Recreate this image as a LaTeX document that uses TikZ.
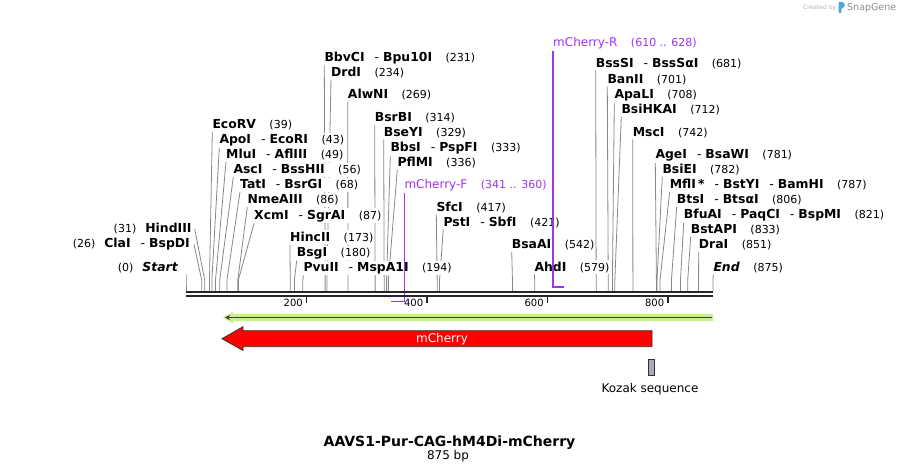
\documentclass[tikz,border=0pt]{standalone}
\usepackage{fontspec}
\setmainfont{DejaVu Sans}
\usetikzlibrary{calc, arrows.meta}
\pgfdeclarelayer{back}
\pgfsetlayers{back,main}
\definecolor{cutgray}{RGB}{135,135,135}
\definecolor{primer}{RGB}{160,50,240}
\definecolor{featgreen}{RGB}{198,240,140}
\definecolor{kozakgray}{RGB}{168,172,180}
\definecolor{logoblue}{RGB}{80,165,225}
\newcommand{\nm}[1]{\textbf{#1}}
\newcommand{\dsh}{\hspace{10pt}-\hspace{4pt}}
\newcommand{\num}[1]{\hspace{13.5pt}{\fontsize{11}{13}\selectfont(#1)}}
\newcommand{\mun}[1]{{\fontsize{11}{13}\selectfont(#1)}\hspace{9pt}}

\begin{document}
\begin{tikzpicture}[x=1pt, y=-1pt, >=stealth]
\tikzstyle{enz}=[fill=white, inner xsep=0pt, inner ysep=1.5pt, anchor=base west, font=\fontsize{12.4}{14}\selectfont]
\tikzstyle{enzl}=[enz, anchor=base east]
\tikzstyle{prm}=[enz, text=primer, font=\fontsize{12}{14}\selectfont]
\tikzstyle{prmline}=[draw=primer, line width=1.3pt]
\tikzstyle{cut}=[every edge/.style={draw=cutgray, line width=.8pt, to path={-- (\tikztotarget) -- ++(0,11)}}]
\tikzstyle{bone}=[line width=2.3pt, black!85]
\useasboundingbox (0,0) rectangle (899,470);

% cut sites
\foreach \b in {0,26,31,39,43,49,56,68,86,87,173,180,194,231,234,269,314,329,333,336,417,421,542,579,681,701,708,712,742,781,782,787,806,821,833,851,875}
  \coordinate (s\b) at ({186+0.6023*\b},280);
\coordinate (pf) at ({186+0.6023*341},301.5);
\coordinate (pr) at ({186+0.6023*628},287);

% enzymes, left of the map
\node[enzl] (start)   at (178.3,271.2) {\mun{0}\textbf{\textit{Start}}};
\node[enzl] (clai)    at (190,247.8)   {\mun{26}\nm{ClaI}\dsh\nm{BspDI}};
\node[enzl] (hindiii) at (191.7,232.8) {\mun{31}\nm{HindIII}};
% enzymes, right of the cut
\node[enz] (ecorv)   at (212.3,128.5) {\nm{EcoRV}\num{39}};
\node[enz] (apoi)    at (219.3,143.6) {\nm{ApoI}\dsh\nm{EcoRI}\num{43}};
\node[enz] (mlui)    at (226,158.7)   {\nm{MluI}\dsh\nm{AflIII}\num{49}};
\node[enz] (asci)    at (233.3,173.8) {\nm{AscI}\dsh\nm{BssHII}\num{56}};
\node[enz] (tati)    at (240,188.9)   {\nm{TatI}\dsh\nm{BsrGI}\num{68}};
\node[enz] (nmeaiii) at (247.3,204)   {\nm{NmeAIII}\num{86}};
\node[enz] (xcmi)    at (254,219.1)   {\nm{XcmI}\dsh\nm{SgrAI}\num{87}};
\node[enz] (hincii)  at (290,241.2)   {\nm{HincII}\num{173}};
\node[enz] (bsgi)    at (296.7,256.2) {\nm{BsgI}\num{180}};
\node[enz] (pvuii)   at (303.3,271.2) {\nm{PvuII}\dsh\nm{MspA1I}\num{194}};
\node[enz] (bbvci)   at (324.3,61.2)  {\nm{BbvCI}\dsh\nm{Bpu10I}\num{231}};
\node[enz] (drdi)    at (331,76.8)    {\nm{DrdI}\num{234}};
\node[enz] (alwni)   at (347.7,98.5)  {\nm{AlwNI}\num{269}};
\node[enz] (bsrbi)   at (374.7,121.8) {\nm{BsrBI}\num{314}};
\node[enz] (bseyi)   at (383.7,136.2) {\nm{BseYI}\num{329}};
\node[enz] (bbsi)    at (390.3,151.5) {\nm{BbsI}\dsh\nm{PspFI}\num{333}};
\node[enz] (pflmi)   at (397.3,166.5) {\nm{PflMI}\num{336}};
\node[prm] (mchf)    at (404.3,188.5) {mCherry-F\num{341 .. 360}};
\node[enz] (sfci)    at (436.3,211.2) {\nm{SfcI}\num{417}};
\node[enz] (psti)    at (443.3,226.2) {\nm{PstI}\dsh\nm{SbfI}\num{421}};
\node[enz] (bsaai)   at (511.7,248.5) {\nm{BsaAI}\num{542}};
\node[enz] (ahdi)    at (534.3,271.2) {\nm{AhdI}\num{579}};
\node[prm] (mchr)    at (553,46.5)    {mCherry-R\num{610 .. 628}};
\node[enz] (bsssi)   at (595.7,67.3)  {\nm{BssSI}\dsh\nm{BssSαI}\num{681}};
\node[enz] (banii)   at (607.3,83.5)  {\nm{BanII}\num{701}};
\node[enz] (apali)   at (614.3,98.5)  {\nm{ApaLI}\num{708}};
\node[enz] (bsihkai) at (621.3,113.5) {\nm{BsiHKAI}\num{712}};
\node[enz] (msci)    at (632.7,136.2) {\nm{MscI}\num{742}};
\node[enz] (agei)    at (655.3,158.5) {\nm{AgeI}\dsh\nm{BsaWI}\num{781}};
\node[enz] (bsiei)   at (662.3,173.5) {\nm{BsiEI}\num{782}};
\node[enz] (mfli)    at (669.7,188.5) {\nm{MflI}\,\nm{*}\dsh\nm{BstYI}\dsh\nm{BamHI}\num{787}};
\node[enz] (btsi)    at (676.7,203.5) {\nm{BtsI}\dsh\nm{BtsαI}\num{806}};
\node[enz] (bfuai)   at (683.7,218.5) {\nm{BfuAI}\dsh\nm{PaqCI}\dsh\nm{BspMI}\num{821}};
\node[enz] (bstapi)  at (690.7,233.5) {\nm{BstAPI}\num{833}};
\node[enz] (drai)    at (698.7,248.5) {\nm{DraI}\num{851}};
\node[enz] (end)     at (713.3,271.2) {\textbf{\textit{End}}\num{875}};

\begin{pgfonlayer}{back}
\path[cut]
(start.south east -| s0) edge (s0)
([xshift=4pt]clai.east) edge (s26)
([xshift=3pt]hindiii.east) edge (s31)
(ecorv.south west) edge (s39)
(apoi.south west) edge (s43)
(mlui.south west) edge (s49)
(asci.south west) edge (s56)
(tati.south west) edge (s68)
(nmeaiii.south west) edge (s86)
(xcmi.south west) edge (s87)
(hincii.south west) edge (s173)
(bsgi.south west) edge (s180)
(pvuii.south west) edge (s194)
(bbvci.south west) edge (s231)
(drdi.south west) edge (s234)
(alwni.south west) edge (s269)
(bsrbi.south west) edge (s314)
(bseyi.south west) edge (s329)
(bbsi.south west) edge (s333)
(pflmi.south west) edge (s336)
(sfci.south west) edge (s417)
(psti.south west) edge (s421)
(bsaai.south west) edge (s542)
(ahdi.south west) edge (s579)
(bsssi.south west) edge (s681)
(banii.south west) edge (s701)
(apali.south west) edge (s708)
(bsihkai.south west) edge (s712)
(msci.south west) edge (s742)
(agei.south west) edge (s781)
(bsiei.south west) edge (s782)
(mfli.south west) edge (s787)
(btsi.south west) edge (s806)
(bfuai.south west) edge (s821)
(bstapi.south west) edge (s833)
(drai.south west) edge (s851)
(end.south west) edge (s875);
\end{pgfonlayer}

% primers
\draw[prmline] (mchf.south west) |- (pf);
\draw[prmline] (mchr.south west) |- (pr);

% backbone and ruler
\draw[bone] (186,292) -- (713,292);
\draw[bone] (186,296) -- (713,296);
\foreach \t in {200,400,600,800} {
  \draw[line width=1.5pt, black!85] ({186+0.6023*\t},297) -- ++(0,6);
  \node[anchor=base east, inner sep=0pt, font=\fontsize{10}{12}\selectfont] (t\t) at ({182.5+0.6023*\t},306.7) {\t};
}

% features
\fill[featgreen] (713,314) -- (233,314) -- (233,311.5) -- (222.5,317.5) -- (233,323.5) -- (233,321) -- (713,321) -- cycle;
\draw[line width=1.8pt, black!75, -{Stealth[length=5pt,width=5pt]}] (712,317.5) -- (225,317.5);
\draw[fill=red, draw=black!80, line width=.8pt] (652,330.7) -- (243,330.7) -- (243,326.7) -- (222,338.7) -- (243,350.5) -- (243,346.7) -- (652,346.7) -- cycle;
\node[text=white, font=\fontsize{12}{14}\selectfont] (mcherry) at (442,338.7) {mCherry};
\node[draw=black!80, fill=kozakgray, line width=.8pt, minimum width=6pt, minimum height=16.5pt, inner sep=0pt] (kozak) at (651.3,367.3) {};
\node[anchor=base, font=\fontsize{12}{14}\selectfont] (kozaklbl) at (650,392.7) {Kozak sequence};

% title
\node[anchor=base, font=\fontsize{14}{16}\selectfont\bfseries] (title) at (449.5,446) {AAVS1-Pur-CAG-hM4Di-mCherry};
\node[anchor=base, font=\fontsize{12}{14}\selectfont] (size) at (448,459) {875 bp};

% watermark
\node[anchor=base west, inner sep=0pt, text=black!30, font=\fontsize{6}{7}\selectfont] (created) at (803,10) {Created by};
\fill[logoblue, rounded corners=.8pt] (838.5,13) -- (838.5,2) -- (843,2) -- (845,5) -- (843,8.5) -- (841.3,8.5) -- (841.3,13) -- cycle;
\node[anchor=base west, inner sep=0pt, text=black!45, font=\fontsize{9.5}{11}\selectfont] (snapgene) at (847,10.5) {SnapGene};
\end{tikzpicture}
\end{document}
